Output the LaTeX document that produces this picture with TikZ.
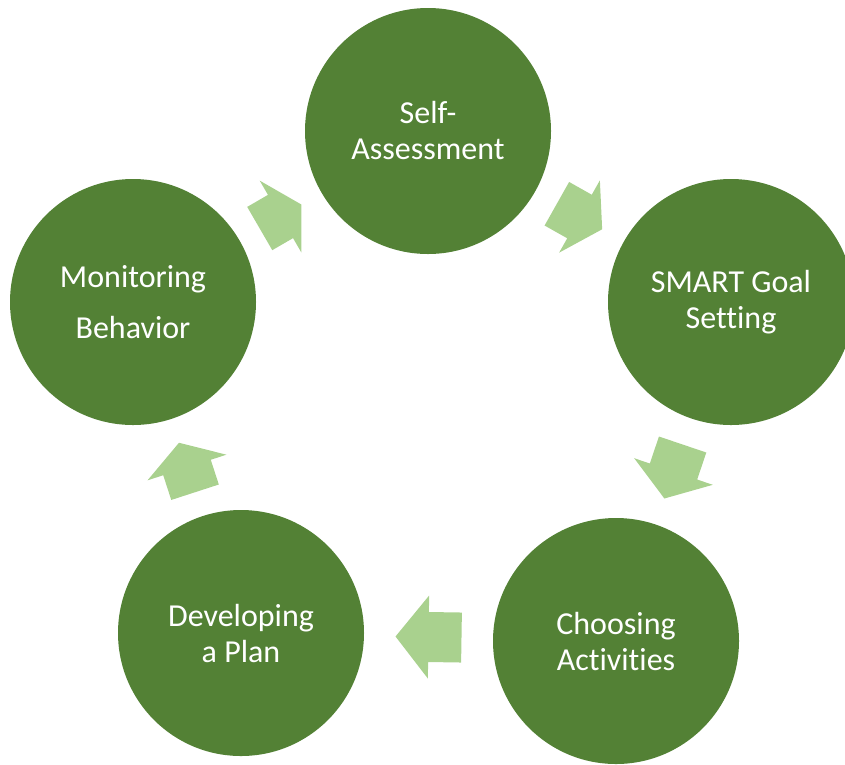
\documentclass[tikz,border=0pt]{standalone}
\usepackage{fontspec}
\setmainfont[Ligatures=NoCommon]{Carlito}
\usetikzlibrary{calc}
\definecolor{stagegreen}{HTML}{538135}
\definecolor{arrowgreen}{HTML}{A9D18E}
\tikzset{
	stage/.style={circle, fill=stagegreen, text=white, minimum size=246pt, inner sep=0pt,
		align=center, font=\fontsize{32}{36}\selectfont},
	cyclearrow/.style={fill=arrowgreen}
}
\begin{document}
\begin{tikzpicture}[x=1pt,y=-1pt]
	\useasboundingbox (0,0) rectangle (845,764);
	\clip (0,0) rectangle (845,764);
	\node[stage] (self) at (428,131) {Self-\\Assessment};
	\node[stage] (smart) at (731,302) {SMART Goal\\Setting};
	\node[stage] (choose) at (616,641) {Choosing\\Activities};
	\node[stage] (plan) at (241,633) {Developing\\a Plan};
	\node[stage] (monitor) at (133,302) {Monitoring\\[15pt]Behavior};
	% block arrows half way between the stages
	\foreach \a/\b/\ang/\len in {monitor/self/30.1/48, self/smart/-29.4/52, smart/choose/-108.7/57, choose/plan/179.1/66, plan/monitor/108/52}
		\fill[cyclearrow, shift={($(\a)!0.5!(\b)$)}, rotate=\ang]
			(-\len/2,25) -- (0,25) -- (0,41.5) -- (\len/2,0) -- (0,-41.5) -- (0,-25) -- (-\len/2,-25) -- cycle;
\end{tikzpicture}
\end{document}
